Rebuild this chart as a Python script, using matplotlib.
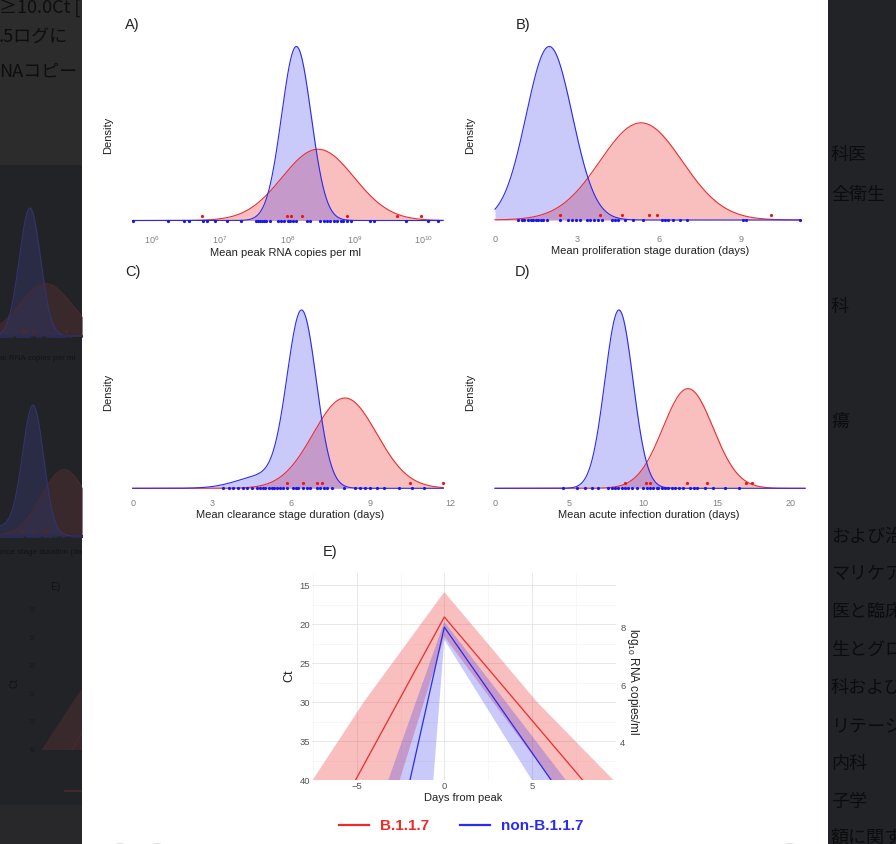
import numpy as np
import matplotlib
matplotlib.use('Agg')
import matplotlib.pyplot as plt
from matplotlib.patches import Rectangle, FancyBboxPatch, Circle
from matplotlib.lines import Line2D

plt.rcParams['font.family'] = ['Liberation Sans', 'DejaVu Sans']
plt.rcParams['mathtext.fontset'] = 'custom'
plt.rcParams['mathtext.rm'] = 'Liberation Sans'
plt.rcParams['mathtext.it'] = 'Liberation Sans:italic'

W, H = 896, 844
RED = '#ee2b2b'
BLUE = '#2b2bee'
JP = ['Noto Sans CJK JP', 'DejaVu Sans']

# ---------------- data ----------------
# A) mean peak RNA copies per ml (log10)
peak_non = [5.74, 6.26, 6.49, 6.57, 6.78, 6.83, 6.95, 7.13, 7.34, 7.55, 7.58,
            7.61, 7.64, 7.67, 7.70, 7.76, 7.88, 7.93, 7.97, 8.02, 8.06, 8.10,
            8.14, 8.30, 8.35, 8.50, 8.55, 8.60, 8.65, 8.70, 8.75, 8.80, 8.84,
            8.89, 8.96, 9.23, 9.29, 9.76, 10.09, 10.24]
peak_b117 = [6.76, 8.01, 8.07, 8.24, 8.89, 9.63, 9.99]
peak_fit_non = [(8.15, 0.217, 1.0)]
peak_fit_b117 = [(8.47, 0.53, 1.0)]
peak_range = [5.74, 10.31]
peak_ticks = [6, 7, 8, 9, 10]
peak_ticklabels = ['$10^{6}$', '$10^{7}$', '$10^{8}$', '$10^{9}$', '$10^{10}$']

# B) mean proliferation stage duration (days)
prolif_non = [0.85, 0.97, 1.07, 1.22, 1.32, 1.40, 1.50, 1.58, 1.68, 1.76, 1.89,
              2.37, 2.68, 2.80, 2.96, 3.10, 3.35, 3.47, 3.62, 3.75, 3.89, 4.26,
              4.38, 4.50, 4.74, 5.05, 5.39, 6.08, 6.20, 6.33, 6.51, 6.75, 7.02,
              9.04, 9.16, 11.11]
prolif_b117 = [2.37, 3.83, 4.62, 5.62, 5.92, 10.07]
prolif_fit_non = [(1.98, 0.84, 1.0)]
prolif_fit_b117 = [(5.33, 1.5, 1.0)]
prolif_range = [0, 11.13]
prolif_ticks = [0, 3, 6, 9]

# C) mean clearance stage duration (days)
clear_non = [3.43, 3.66, 3.81, 4.0, 4.19, 4.34, 4.50, 4.69, 4.82, 4.94, 5.01,
             5.14, 5.26, 5.35, 5.45, 5.58, 5.70, 5.83, 6.08, 6.18, 6.27, 6.46,
             6.59, 6.71, 6.96, 7.09, 7.22, 7.34, 7.53, 7.98, 8.42, 8.61, 8.80,
             8.99, 9.24, 9.49, 10.06, 10.57, 11.01]
clear_b117 = [5.83, 6.46, 6.96, 7.15, 10.5, 11.74]
clear_fit_non = [(6.40, 0.55, 0.88), (5.0, 1.0, 0.12)]
clear_fit_b117 = [(8.03, 1.2, 1.0)]
clear_range = [0, 11.75]
clear_ticks = [0, 3, 6, 9, 12]

# D) mean acute infection duration (days)
acute_non = [4.62, 5.52, 6.08, 6.53, 6.98, 7.66, 7.88, 8.11, 8.33, 8.56, 8.78,
             9.01, 9.28, 9.58, 10.03, 10.25, 10.48, 10.70, 10.93, 11.04, 11.27,
             11.49, 11.72, 11.94, 12.17, 12.46, 12.73, 13.18, 13.45, 13.63,
             14.20, 14.71, 15.55, 16.52]
acute_b117 = [8.81, 10.23, 10.45, 12.97, 14.33, 16.96, 17.36]
acute_fit_non = [(8.38, 0.95, 1.0)]
acute_fit_b117 = [(13.05, 1.7, 1.0)]
acute_range = [0, 20.96]
acute_ticks = [0, 5, 10, 15, 20]

# E) Ct trajectories (days from peak, Ct)
days_b117 = [-5.07, 0, 7.9]
ct_b117 = [40, 19.1, 40]
days_non = [-1.96, 0, 6.1]
ct_non = [40, 20.4, 40]
band_b117_days = [-7.52, -4.6, 0, 5.3, 9.66, 6.1, 0, -2.55]
band_b117_ct = [40, 30, 15.9, 30, 40, 40, 21.6, 40]
band_non_days = [-3.2, 0, 6.94, 5.0, 0, -0.63]
band_non_ct = [40, 19.7, 40, 40, 22.0, 40]
ct_ticks = [15, 20, 25, 30, 35, 40]
day_ticks = [-5, 0, 5]
log_ticks = [4, 6, 8]
ct_intercept, ct_slope = 50.0, 3.69

legend_labels = ['B.1.1.7', 'non-B.1.1.7']

# page text behind the viewer
left_lines = [('\u226510.0Ct [', 8), ('.5ログに', 38), ('NAコピー', 72)]
right_lines = [('科医', 155), ('全衛生', 195), ('科', 307), ('瘍', 422),
               ('および治', 537), ('マリケア', 574), ('医と臨床', 612),
               ('生とグロ', 650), ('科および', 688), ('リテージ', 726),
               ('内科', 764), ('子学', 802), ('額に関す', 838)]


def px_box(x0, y0, x1, y1):
    return [x0 / W, 1 - y1 / H, (x1 - x0) / W, (y1 - y0) / H]


def fx(x):
    return x / W


def fy(y):
    return 1 - y / H


def mix_pdf(x, comps):
    out = np.zeros_like(x)
    for m, s, w in comps:
        out += w * np.exp(-0.5 * ((x - m) / s) ** 2) / (s * np.sqrt(2 * np.pi))
    return out


def density_panel(box, xlim, rng, fit_r, fit_b, pts_r, pts_b, base_px, peak_px,
                  dim=False, zorder=0):
    ax = fig.add_axes(px_box(*box))
    ax.set_zorder(zorder)
    ax.patch.set_visible(False)
    x = np.linspace(rng[0], rng[1], 800)
    yr = mix_pdf(x, fit_r)
    yb = mix_pdf(x, fit_b)
    pmax = max(yr.max(), yb.max())
    per_px = pmax / (base_px - peak_px)
    ax.set_ylim(-(box[3] - base_px) * per_px, (base_px - box[1]) * per_px)
    ax.set_xlim(xlim)
    if dim:
        rf, rl, bf, bl = '#4a2c30', '#4a2a2e', '#30335a', '#32346e'
        ra, ba = 0.6, 0.6
        rp, bp = '#4a2a2e', '#2a2c55'
    else:
        rf, rl, bf, bl = RED, RED, BLUE, BLUE
        ra, ba = 0.3, 0.25
        rp, bp = '#e81818', '#1818e8'
    ax.fill_between(x, 0, yr, color=rf, alpha=ra, lw=0)
    ax.plot(x, yr, color=rl, lw=0.8)
    ax.fill_between(x, 0, yb, color=bf, alpha=ba, lw=0)
    ax.plot(x, yb, color=bl, lw=0.8)
    ax.plot(pts_b, np.zeros(len(pts_b)), 'o', ms=2.3, color=bp, mec='none')
    ax.plot(pts_r, np.full(len(pts_r), 5 * per_px), 'o', ms=2.3, color=rp, mec='none')
    for s in ax.spines.values():
        s.set_visible(False)
    ax.set_yticks([])
    ax.set_xticks([])
    return ax


fig = plt.figure(figsize=(W / 100, H / 100), dpi=100)
fig.patch.set_facecolor('#222327')

# ---------------- background page ----------------
bg = fig.add_axes([0, 0, 1, 1])
bg.set_zorder(-2)
bg.set_xlim(0, W)
bg.set_ylim(H, 0)
bg.axis('off')
bg.add_patch(Rectangle((0, 0), 82, 165, fc='#2c2c2d', ec='none'))
bg.add_patch(Rectangle((0, 805), 82, 40, fc='#28282a', ec='none'))
for s, y in left_lines:
    bg.text(-1, y, s, fontsize=13, color='#0e0e0e', va='center', ha='left', family=JP)
for s, y in right_lines:
    bg.text(831, y, s, fontsize=13, color='#0c0c0e', va='center', ha='left', family=JP)
# dimmed copy labels of the same figure behind the viewer
bg.text(21, 358, 'Mean peak RNA copies per ml', fontsize=5.8, color='#131315', ha='center', va='center')
bg.text(25, 553, 'Mean clearance stage duration (days)', fontsize=5.8, color='#131315', ha='center', va='center')
bg.text(55, 587, 'E)', fontsize=7.5, color='#131315', ha='center', va='center')
bg.text(14, 683, 'Ct', fontsize=7, color='#131315', ha='center', va='center', rotation=90)
for t in ct_ticks:
    bg.text(36, 611 + (t - 15) * 5.56, str(t), fontsize=4.8, color='#1a1a1c', ha='right', va='center')
bg.plot([65, 82], [791, 791], color='#4a2a2e', lw=1.2)

# viewer panel
bg.add_patch(FancyBboxPatch((82, -20), 746, 900, boxstyle='round,pad=0,rounding_size=9',
                            fc='white', ec='none', zorder=5))
for cx in [120, 157, 790]:
    bg.add_patch(Circle((cx, 858), 14, fc='white', ec='#cfcfcf', lw=1, zorder=6))

# dim copies on the left
density_panel((0, 203, 82, 341), (7.54, 9.21), peak_range, peak_fit_b117, peak_fit_non,
              peak_b117, peak_non, 336, 208, dim=True, zorder=-1)
density_panel((0, 400, 82, 541), (4.65, 8.97), clear_range, clear_fit_b117, clear_fit_non,
              clear_b117, clear_non, 536, 405, dim=True, zorder=-1)
axc = fig.add_axes(px_box(41, 602, 82, 750))
axc.set_zorder(-1)
axc.patch.set_visible(False)
axc.set_xlim(-7.56, -4.28)
axc.set_ylim(40, 13.46)
axc.fill(band_b117_days, band_b117_ct, color='#4a2c30', alpha=0.6, lw=0)
axc.plot(days_b117, ct_b117, color='#4a2a2e', lw=0.8)
axc.axis('off')

# ---------------- panels A-D ----------------
tick_kw = dict(fontsize=6.5, color='#808080', ha='center', va='center')
lab_kw = dict(fontsize=8, color='#222222', ha='center', va='center')
tag_kw = dict(fontsize=10.5, color='#222222', ha='center', va='center')

# A
axA = density_panel((128, 40, 448, 226), (5.670, 10.383), peak_range, peak_fit_b117,
                    peak_fit_non, peak_b117, peak_non, 220.5, 46.5)
for t, lab in zip(peak_ticks, peak_ticklabels):
    fig.text(fx(286.2 + 67.9 * (t - 8) + 1), fy(240), lab, **tick_kw)
fig.text(fx(286), fy(253), 'Mean peak RNA copies per ml', **lab_kw)
fig.text(fx(108), fy(135), 'Density', rotation=90, **lab_kw)
fig.text(fx(132.5), fy(25), 'A)', **tag_kw)

# B
axB = density_panel((490, 40, 808, 226), (-0.182, 11.42), prolif_range, prolif_fit_b117,
                    prolif_fit_non, prolif_b117, prolif_non, 220, 46.5)
for t in prolif_ticks:
    fig.text(fx(495 + 27.4 * t), fy(240), str(t), **tick_kw)
fig.text(fx(650), fy(251.5), 'Mean proliferation stage duration (days)', **lab_kw)
fig.text(fx(470), fy(135), 'Density', rotation=90, **lab_kw)
fig.text(fx(523), fy(25), 'B)', **tag_kw)

# C
axC = density_panel((128, 300, 452, 494), (-0.178, 12.08), clear_range, clear_fit_b117,
                    clear_fit_non, clear_b117, clear_non, 488.3, 310)
for t in clear_ticks:
    fig.text(fx(132.7 + 26.43 * t), fy(504), str(t), **tick_kw)
fig.text(fx(290), fy(515), 'Mean clearance stage duration (days)', **lab_kw)
fig.text(fx(108), fy(392), 'Density', rotation=90, **lab_kw)
fig.text(fx(133), fy(272), 'C)', **tag_kw)

# D
axD = density_panel((490, 300, 808, 494), (-0.338, 21.16), acute_range, acute_fit_b117,
                    acute_fit_non, acute_b117, acute_non, 488.3, 310)
for t in acute_ticks:
    fig.text(fx(495 + 14.79 * t), fy(504), str(t), **tick_kw)
fig.text(fx(649), fy(515), 'Mean acute infection duration (days)', **lab_kw)
fig.text(fx(470), fy(392), 'Density', rotation=90, **lab_kw)
fig.text(fx(523), fy(272), 'D)', **tag_kw)

# ---------------- panel E ----------------
axE = fig.add_axes(px_box(312, 573, 616, 780))
axE.set_facecolor('white')
axE.set_xlim(-7.56, 9.81)
axE.set_ylim(40, 13.46)
axE.fill(band_b117_days, band_b117_ct, color=RED, alpha=0.3, lw=0)
axE.fill(band_non_days, band_non_ct, color=BLUE, alpha=0.25, lw=0)
axE.plot(days_b117, ct_b117, color=RED, lw=0.9)
axE.plot(days_non, ct_non, color=BLUE, lw=0.9)
axE.set_xticks(day_ticks)
axE.set_xticklabels(['\u22125', '0', '5'])
axE.set_yticks(ct_ticks)
axE.set_xticks([-7.5, -2.5, 2.5, 7.5], minor=True)
axE.set_yticks([17.5, 22.5, 27.5, 32.5, 37.5], minor=True)
axE.grid(which='major', color='#e4e4e4', lw=0.6)
axE.grid(which='minor', color='#f1f1f1', lw=0.4)
axE.set_axisbelow(True)
for s in axE.spines.values():
    s.set_visible(False)
axE.tick_params(which='both', length=0, labelsize=6.8, labelcolor='#555555', pad=1.5)

sec = axE.secondary_yaxis('right', functions=(lambda c: (ct_intercept - c) / ct_slope,
                                              lambda l: ct_intercept - ct_slope * l))
sec.set_yticks(log_ticks)
sec.tick_params(length=0, labelsize=6.8, labelcolor='#555555', pad=3)
for s in sec.spines.values():
    s.set_visible(False)

fig.text(fx(463), fy(798), 'Days from peak', **lab_kw)
fig.text(fx(289), fy(676), 'Ct', rotation=90, fontsize=9, color='#222222', ha='center', va='center')
fig.text(fx(633), fy(682), 'log$_{10}$ RNA copies/ml', rotation=270, fontsize=8.5,
         color='#222222', ha='center', va='center')
fig.text(fx(330), fy(552), 'E)', **tag_kw)

handles = [Line2D([], [], color=RED, lw=1.6), Line2D([], [], color=BLUE, lw=1.6)]
fig.legend(handles, legend_labels, loc='center', bbox_to_anchor=(fx(461), fy(826)),
           ncol=2, frameon=False, prop={'weight': 'bold', 'size': 11},
           labelcolor='linecolor', handlelength=2.0, handletextpad=0.7, columnspacing=2.0)

fig.savefig('out.png', dpi=100, facecolor=fig.get_facecolor())
